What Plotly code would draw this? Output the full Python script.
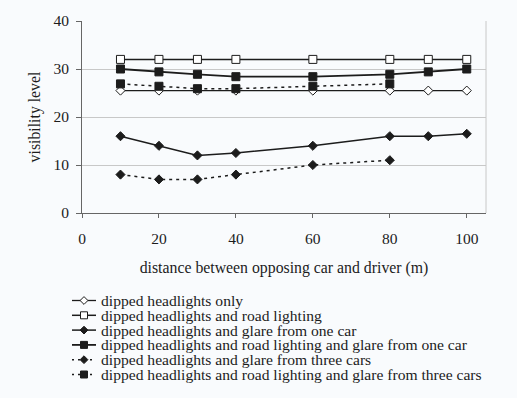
import plotly.graph_objects as go

# ---- data ----
distance = [10, 20, 30, 40, 60, 80, 90, 100]
distance_short = [10, 20, 30, 40, 60, 80]

headlights_only = [25.5, 25.5, 25.5, 25.5, 25.5, 25.5, 25.5, 25.5]
road_lighting = [32, 32, 32, 32, 32, 32, 32, 32]
glare_one_car = [16, 14, 12, 12.5, 14, 16, 16, 16.5]
road_glare_one_car = [30, 29.4, 28.9, 28.4, 28.4, 28.9, 29.4, 30]
glare_three_cars = [8, 7, 7, 8, 10, 11]
road_glare_three_cars = [26.9, 26.4, 25.9, 25.9, 26.4, 26.9]

series_names = [
    "dipped headlights only",
    "dipped headlights and road lighting",
    "dipped headlights and glare from one car",
    "dipped headlights and road lighting and glare from one car",
    "dipped headlights and glare from three cars",
    "dipped headlights and road lighting and glare from three cars",
]

x_ticks = [0, 20, 40, 60, 80, 100]
y_ticks = [0, 10, 20, 30, 40]

# ---- styles ----
INK = "#1c1c1c"
BG = "#f9fbfd"
FONT = "Liberation Serif, Times New Roman, serif"
styles = [
    dict(symbol="diamond", size=7, fill="white", dash="solid", width=1.3),
    dict(symbol="square", size=8, fill="white", dash="solid", width=1.5),
    dict(symbol="diamond", size=7, fill=INK, dash="solid", width=1.5),
    dict(symbol="square", size=8, fill=INK, dash="solid", width=1.8),
    dict(symbol="diamond", size=7, fill=INK, dash="3px,4px", width=1.5),
    dict(symbol="square", size=8, fill=INK, dash="3px,4px", width=1.5),
]
xs = [distance, distance, distance, distance, distance_short, distance_short]
ys = [headlights_only, road_lighting, glare_one_car, road_glare_one_car,
      glare_three_cars, road_glare_three_cars]

W, H = 517, 398
ML, MR, MT, MB = 60, 31, 21, 10
plot_left_px, plot_bottom_px = 82, 213
pw = W - ML - MR
ph = H - MT - MB
x_dom0 = (plot_left_px - ML) / pw
y_dom0 = (H - MB - plot_bottom_px) / ph

fig = go.Figure()
# draw order: back to front
for i in [0, 4, 2, 5, 3, 1]:
    s = styles[i]
    fig.add_trace(go.Scatter(
        x=xs[i], y=ys[i], mode="lines+markers", name=series_names[i],
        line=dict(color=INK, width=s["width"], dash=s["dash"]),
        marker=dict(symbol=s["symbol"], size=s["size"], color=s["fill"],
                    line=dict(color=INK, width=1)),
        showlegend=False, xaxis="x", yaxis="y",
    ))

# ---- manual legend (pixel-coordinate overlay axis) ----
leg_rows = [300.5, 315.3, 330.1, 344.9, 359.7, 374.5]
leg_x0, leg_x1, leg_mx, leg_tx = 72, 96, 84, 98.5
for i, yy in enumerate(leg_rows):
    s = styles[i]
    fig.add_trace(go.Scatter(
        x=[leg_x0, leg_x1], y=[yy, yy], mode="lines",
        line=dict(color=INK, width=s["width"], dash=s["dash"] if s["dash"] == "solid" else "2px,4px"),
        showlegend=False, hoverinfo="skip", xaxis="x2", yaxis="y2"))
    fig.add_trace(go.Scatter(
        x=[leg_mx], y=[yy], mode="markers",
        marker=dict(symbol=s["symbol"], size=s["size"] - 1, color=s["fill"],
                    line=dict(color=INK, width=1)),
        showlegend=False, hoverinfo="skip", xaxis="x2", yaxis="y2"))
    fig.add_annotation(x=leg_tx, y=yy, xref="x2", yref="y2", text=series_names[i],
                       showarrow=False, xanchor="left", yanchor="middle",
                       font=dict(family=FONT, size=15.6, color=INK))

fig.update_layout(
    width=W, height=H,
    margin=dict(l=ML, r=MR, t=MT, b=MB, autoexpand=False),
    paper_bgcolor=BG, plot_bgcolor="rgba(0,0,0,0)",
    font=dict(family=FONT, size=15.5, color=INK),
    xaxis=dict(domain=[x_dom0, 1], anchor="y", range=[0, 105], tickvals=x_ticks,
               showgrid=False, zeroline=False, showline=True, linecolor="#666",
               linewidth=1, ticks="outside", ticklen=4, tickcolor="#666",
               ticklabelstandoff=7,
               title=dict(text="distance between opposing car and driver (m)",
                          font=dict(size=15.8), standoff=16)),
    yaxis=dict(domain=[y_dom0, 1], anchor="x", range=[0, 40], tickvals=y_ticks,
               showgrid=True, gridcolor="#c8c8c8", gridwidth=1, zeroline=False,
               showline=True, linecolor="#666", linewidth=1, ticks="outside",
               ticklen=5, tickcolor="#666", ticklabelstandoff=4,
               title=dict(text="visibility level", font=dict(size=15.8), standoff=8)),
    xaxis2=dict(domain=[0, 1], anchor="y2", range=[ML, W - MR], visible=False,
                fixedrange=True),
    yaxis2=dict(domain=[0, 1], anchor="x2", range=[H - MB, MT], visible=False,
                fixedrange=True),
    shapes=[dict(type="line", xref="x domain", yref="y domain", x0=1, x1=1, y0=0, y1=1,
                 line=dict(color="#c8c8c8", width=1))],
)

fig.write_html("out.html", config={"displayModeBar": False},
               post_script="document.body.style.margin='0';")
